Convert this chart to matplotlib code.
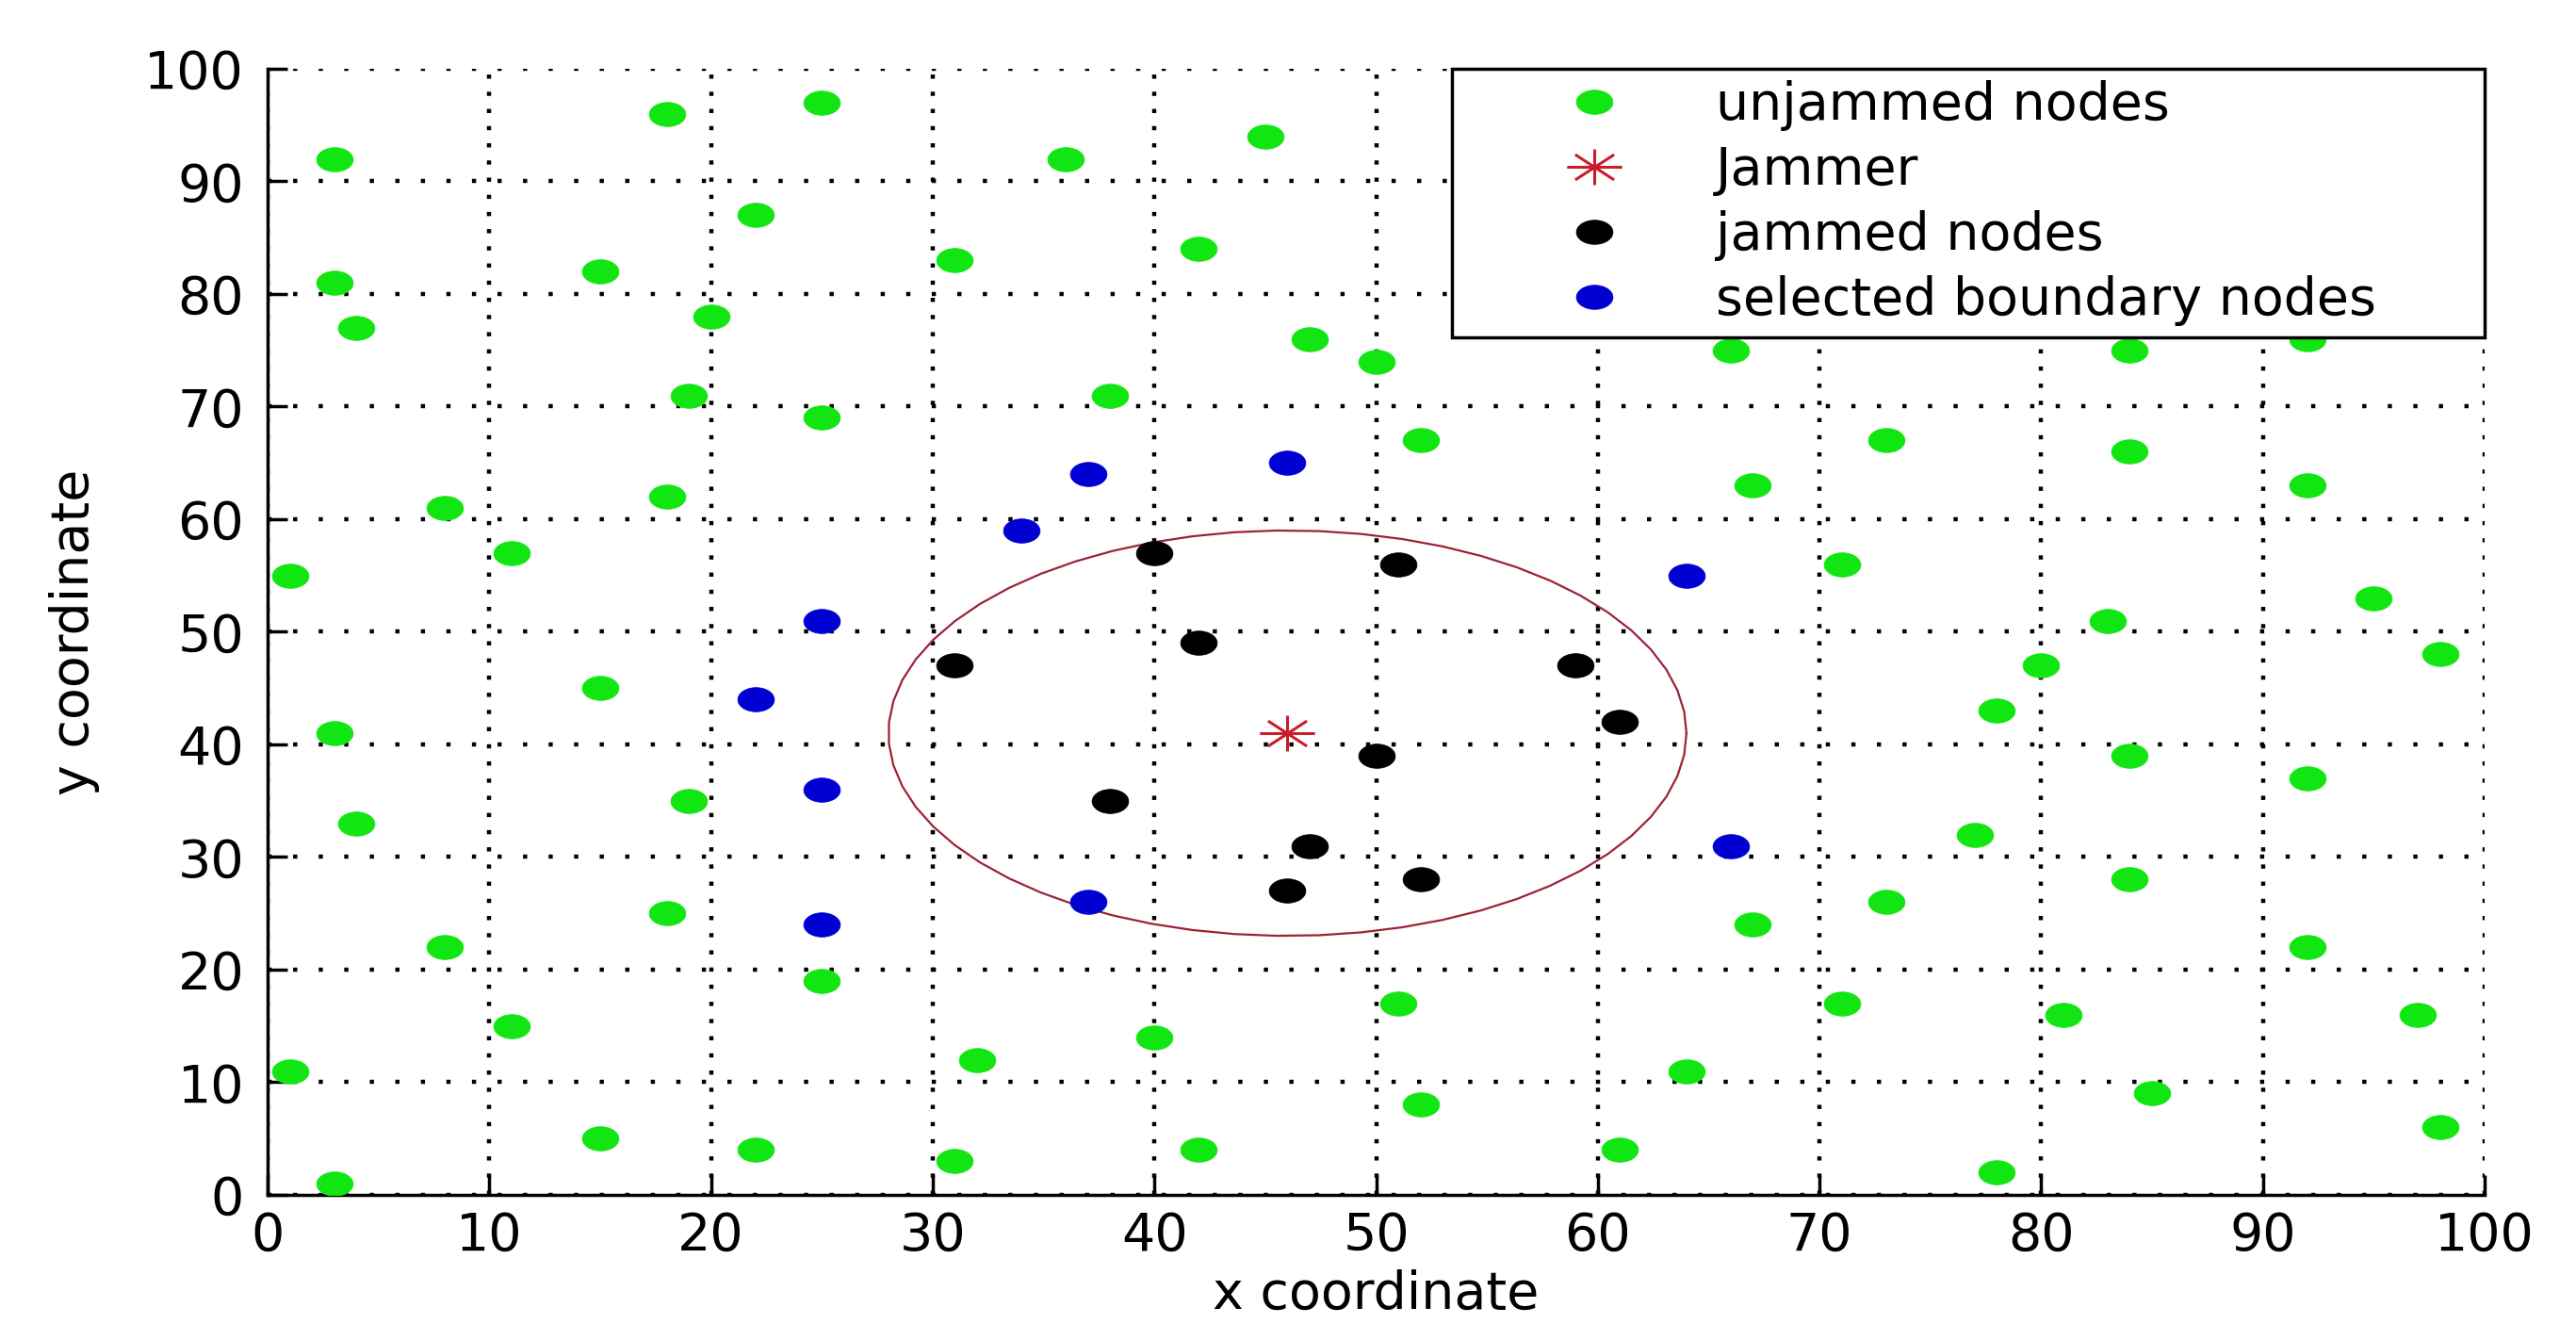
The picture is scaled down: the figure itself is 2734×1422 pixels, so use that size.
import numpy as np
import matplotlib
matplotlib.use("Agg")
import matplotlib.pyplot as plt

# ── Node positions ───────────────────────────────────────────────────────────
unjammed_x = [3, 18, 25, 36, 45, 22, 3, 15, 31, 42, 4, 20, 47, 50, 19, 25, 38, 52,
              8, 18, 11, 1, 15, 3, 4, 19, 18, 8, 25, 11, 1, 15, 22, 3, 31, 32, 40,
              42, 51, 52, 61, 64, 67, 66, 67, 73, 71, 84, 84, 92, 92, 83, 95, 98,
              80, 78, 84, 92, 77, 73, 84, 92, 71, 81, 97, 85, 98, 78]
unjammed_y = [92, 96, 97, 92, 94, 87, 81, 82, 83, 84, 77, 78, 76, 74, 71, 69, 71, 67,
              61, 62, 57, 55, 45, 41, 33, 35, 25, 22, 19, 15, 11, 5, 4, 1, 3, 12, 14,
              4, 17, 8, 4, 11, 24, 75, 63, 67, 56, 75, 66, 76, 63, 51, 53, 48,
              47, 43, 39, 37, 32, 26, 28, 22, 17, 16, 16, 9, 6, 2]

jammed_x = [40, 51, 42, 31, 59, 61, 50, 38, 47, 46, 52]
jammed_y = [57, 56, 49, 47, 47, 42, 39, 35, 31, 27, 28]

boundary_x = [46, 37, 34, 64, 25, 22, 25, 66, 37, 25]
boundary_y = [65, 64, 59, 55, 51, 44, 36, 31, 26, 24]

jammer_x = [46]
jammer_y = [41]
jam_radius = 18

# ── Marker shapes (the original figure is stretched horizontally) ────────────
t = np.linspace(0, 2 * np.pi, 60)
dot = list(zip(np.cos(t), 0.66 * np.sin(t)))
ang = np.deg2rad([0, 45, 90, 135])
star_verts = []
star_codes = []
for a in ang:
    star_verts += [(-np.cos(a), -0.65 * np.sin(a)), (np.cos(a), 0.65 * np.sin(a))]
    star_codes += [matplotlib.path.Path.MOVETO, matplotlib.path.Path.LINETO]
star = matplotlib.path.Path(star_verts, star_codes)

green = "#12E612"
blue = "#0000D2"
red = "#C81E2A"

fig = plt.figure(figsize=(27.34, 14.22), dpi=100)
ax = fig.add_axes([0.1039, 0.1083, 0.8606, 0.8404])

# jamming range
cx = jammer_x[0] + jam_radius * np.cos(t)
cy = jammer_y[0] + jam_radius * np.sin(t)
ax.plot(cx, cy, color="#9E2236", lw=1.6, zorder=2)

ax.plot(unjammed_x, unjammed_y, ls="none", marker=dot, ms=28, color=green,
        mec=green, mew=0.5, label="unjammed nodes", zorder=3)
ax.plot(jammer_x, jammer_y, ls="none", marker=star, ms=42, mec=red, mew=2.2,
        label="Jammer", zorder=3)
ax.plot(jammed_x, jammed_y, ls="none", marker=dot, ms=28, color="k",
        mec="k", mew=0.5, label="jammed nodes", zorder=3)
ax.plot(boundary_x, boundary_y, ls="none", marker=dot, ms=28, color=blue,
        mec=blue, mew=0.5, label="selected boundary nodes", zorder=3)

ax.set_xlim(0, 100)
ax.set_ylim(0, 100)
ax.set_xticks(range(0, 101, 10))
ax.set_yticks(range(0, 101, 10))
ax.tick_params(direction="in", length=15, width=2.5, labelsize=40, color="k")
ax.tick_params(axis="x", pad=12)
ax.tick_params(axis="y", pad=18)
ax.spines["top"].set_visible(False)
ax.spines["right"].set_visible(False)
ax.spines["left"].set_linewidth(2.5)
ax.spines["bottom"].set_linewidth(2.5)

ax.xaxis.grid(True, color="k", lw=3.2, linestyle=(0, (1, 3.1)))
ax.yaxis.grid(True, color="k", lw=3.2, linestyle=(0, (1, 5.1)))
ax.set_axisbelow(True)

ax.set_xlabel("x coordinate", fontsize=40, labelpad=6)
ax.set_ylabel("y coordinate", fontsize=40, labelpad=34)

leg = ax.legend(loc="upper right", bbox_to_anchor=(0.534, 0, 0.466, 1),
                mode="expand", borderaxespad=0, fontsize=40, numpoints=1,
                handlelength=5.02, handletextpad=-0.2, borderpad=0.22,
                labelspacing=0.27, fancybox=False, edgecolor="k", framealpha=1)
leg.get_frame().set_linewidth(2.5)
leg.set_zorder(5)

fig.savefig("out.png", dpi=100, facecolor="white")
